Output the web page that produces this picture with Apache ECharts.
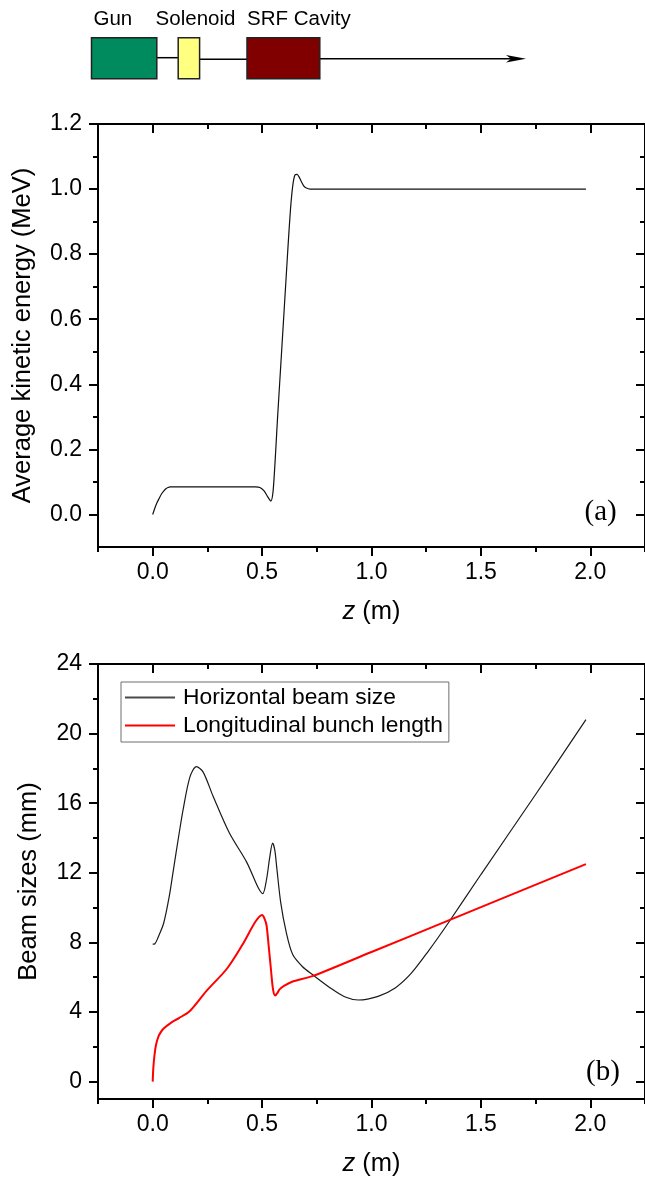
<!DOCTYPE html>
<html><head><meta charset="utf-8">
<script src="https://cdn.jsdelivr.net/npm/echarts@6/dist/echarts.min.js"></script>
<style>html,body{margin:0;padding:0;background:#fff}#c{width:645px;height:1178px}</style>
</head><body><div id="c"></div>
<script>
// ---- Data ----
const zEnergy = [0, 0.01, 0.02, 0.03, 0.04, 0.05, 0.06, 0.07, 0.08, 0.1, 0.2, 0.3, 0.4, 0.47, 0.49, 0.51, 0.525, 0.54, 0.55, 0.56, 0.57, 0.58, 0.59, 0.60, 0.61, 0.62, 0.63, 0.64, 0.65, 0.66, 0.67, 0.68, 0.69, 0.70, 0.72, 0.75, 1.0, 1.5, 1.98];
const energy  = [0, 0.02, 0.037, 0.05, 0.063, 0.072, 0.079, 0.083, 0.085, 0.085, 0.085, 0.085, 0.085, 0.085, 0.083, 0.072, 0.055, 0.041, 0.07, 0.17, 0.29, 0.40, 0.51, 0.62, 0.73, 0.84, 0.94, 1.01, 1.043, 1.045, 1.036, 1.022, 1.01, 1.004, 1.0, 1.0, 1.0, 1.0, 1.0];

const zHor = [0, 0.01, 0.025, 0.05, 0.075, 0.095, 0.12, 0.14, 0.17, 0.2, 0.23, 0.276, 0.35, 0.43, 0.48, 0.503, 0.52, 0.535, 0.548, 0.558, 0.567, 0.585, 0.61, 0.64, 0.685, 0.73, 0.81, 0.88, 0.94, 1.03, 1.11, 1.18, 1.26, 1.35, 1.5, 1.75, 1.98];
const horSize = [7.9, 7.92, 8.3, 9.1, 10.6, 12.2, 14.2, 15.7, 17.5, 18.1, 17.8, 16.4, 14.3, 12.6, 11.2, 10.8, 11.6, 12.9, 13.7, 13.3, 12.3, 10.3, 8.6, 7.3, 6.6, 6.15, 5.4, 4.86, 4.69, 4.9, 5.4, 6.2, 7.5, 9.1, 11.9, 16.5, 20.8];

const zLong = [0, 0.003, 0.008, 0.015, 0.025, 0.035, 0.05, 0.08, 0.12, 0.17, 0.245, 0.34, 0.41, 0.47, 0.5, 0.51, 0.52, 0.53, 0.54, 0.55, 0.56, 0.57, 0.58, 0.6, 0.64, 0.73, 1.0, 1.35, 1.98];
const longLen = [0, 0.8, 1.5, 2.1, 2.55, 2.8, 3.05, 3.35, 3.65, 4.06, 5.2, 6.5, 7.86, 9.2, 9.58, 9.4, 9.0, 7.8, 6.5, 5.3, 4.95, 5.1, 5.3, 5.5, 5.75, 6.06, 7.45, 9.25, 12.5];

const xMajorTicks = [0, 0.5, 1.0, 1.5, 2.0];
const xMinorTicks = [-0.25, 0.25, 0.75, 1.25, 1.75, 2.25];
const yEnergyMajor = [0, 0.2, 0.4, 0.6, 0.8, 1.0, 1.2];
const yEnergyMinor = [0.1, 0.3, 0.5, 0.7, 0.9, 1.1];
const ySizeMajor = [0, 4, 8, 12, 16, 20, 24];
const ySizeMinor = [2, 6, 10, 14, 18, 22];
const seriesNames = ['Horizontal beam size', 'Longitudinal bunch length'];
const components = ['Gun', 'Solenoid', 'SRF Cavity'];
const panelLabels = ['(a)', '(b)'];

// ---- Chart ----
const FONT = 'Liberation Sans, Arial, sans-serif';
const black = '#000';
const TICK_FS = 23, TITLE_FS = 25.5;
function xAxes(gi, nameGap) {
  const base = {type: 'value', gridIndex: gi, min: -0.25, max: 2.25, splitLine: {show: false}};
  return [
    Object.assign({}, base, {position: 'bottom',
      axisLine: {show: true, onZero: false, lineStyle: {color: black, width: 2}},
      axisTick: {show: true, customValues: xMajorTicks, length: 9, lineStyle: {color: black, width: 2}},
      axisLabel: {show: true, customValues: xMajorTicks, formatter: v => v.toFixed(1), color: black, fontSize: TICK_FS, fontFamily: FONT, margin: 14},
      name: '{i|z} (m)', nameLocation: 'middle', nameGap: nameGap,
      nameTextStyle: {color: black, fontSize: TITLE_FS, fontFamily: FONT, rich: {i: {fontStyle: 'italic', fontSize: TITLE_FS, fontFamily: FONT, color: black}}}
    }),
    Object.assign({}, base, {position: 'bottom',
      axisLine: {show: false, onZero: false},
      axisTick: {show: true, customValues: xMinorTicks, length: 5, lineStyle: {color: black, width: 2}},
      axisLabel: {show: false}}),
    Object.assign({}, base, {position: 'top',
      axisLine: {show: true, onZero: false, lineStyle: {color: black, width: 2}},
      axisTick: {show: true, inside: true, customValues: xMajorTicks, length: 9, lineStyle: {color: black, width: 2}},
      axisLabel: {show: false}}),
    Object.assign({}, base, {position: 'top',
      axisLine: {show: false, onZero: false},
      axisTick: {show: true, inside: true, customValues: xMinorTicks, length: 5, lineStyle: {color: black, width: 2}},
      axisLabel: {show: false}})
  ];
}
function yAxes(gi, min, max, major, minor, fmt, name, nameGap) {
  const base = {type: 'value', gridIndex: gi, min: min, max: max, splitLine: {show: false}};
  return [
    Object.assign({}, base, {position: 'left',
      axisLine: {show: true, onZero: false, lineStyle: {color: black, width: 2}},
      axisTick: {show: true, customValues: major, length: 9, lineStyle: {color: black, width: 2}},
      axisLabel: {show: true, customValues: major, formatter: fmt, color: black, fontSize: TICK_FS, fontFamily: FONT, margin: 16},
      name: name, nameLocation: 'middle', nameRotate: 90, nameGap: nameGap,
      nameTextStyle: {color: black, fontSize: TITLE_FS, fontFamily: FONT}
    }),
    Object.assign({}, base, {position: 'left',
      axisLine: {show: false, onZero: false},
      axisTick: {show: true, customValues: minor, length: 5, lineStyle: {color: black, width: 2}},
      axisLabel: {show: false}}),
    Object.assign({}, base, {position: 'right',
      axisLine: {show: true, onZero: false, lineStyle: {color: black, width: 2}},
      axisTick: {show: true, inside: true, customValues: major, length: 9, lineStyle: {color: black, width: 2}},
      axisLabel: {show: false}}),
    Object.assign({}, base, {position: 'right',
      axisLine: {show: false, onZero: false},
      axisTick: {show: true, inside: true, customValues: minor, length: 5, lineStyle: {color: black, width: 2}},
      axisLabel: {show: false}})
  ];
}

const zip = (a, b) => a.map((v, i) => [v, b[i]]);
const chart = echarts.init(document.getElementById('c'), null, {renderer: 'canvas'});
const labelFont = '20.5px ' + FONT;
const panelFont = '29px Liberation Serif, Times New Roman, serif';
chart.setOption({
  animation: false,
  backgroundColor: '#fff',
  grid: [
    {left: 98, top: 124, width: 550, height: 423},
    {left: 98, top: 664, width: 550, height: 438}
  ],
  xAxis: xAxes(0, 52).concat(xAxes(1, 52)),
  yAxis: yAxes(0, -0.1, 1.2, yEnergyMajor, yEnergyMinor, v => v.toFixed(1), 'Average kinetic energy (MeV)', 62)
    .concat(yAxes(1, -1, 24, ySizeMajor, ySizeMinor, v => String(v), 'Beam sizes (mm)', 56)),
  legend: {
    data: seriesNames, left: 121, top: 682, orient: 'vertical',
    borderColor: '#6e6e6e', borderWidth: 1, padding: [4, 6, 5, 4], itemGap: 5,
    itemWidth: 50, itemHeight: 2, icon: 'rect',
    textStyle: {color: black, fontSize: 22.8, fontFamily: FONT, padding: [0, 0, 0, 3]}
  },
  series: [
    {type: 'line', name: 'energy', xAxisIndex: 0, yAxisIndex: 0, data: zip(zEnergy, energy),
      showSymbol: false, symbol: 'none', smooth: 0.25, lineStyle: {color: '#111', width: 1.2}, itemStyle: {color: '#111'}},
    {type: 'line', name: seriesNames[0], xAxisIndex: 4, yAxisIndex: 4, data: zip(zHor, horSize),
      showSymbol: false, symbol: 'none', smooth: 0.3, lineStyle: {color: '#1a1a1a', width: 1.2}, itemStyle: {color: '#4a4a4a'}},
    {type: 'line', name: seriesNames[1], xAxisIndex: 4, yAxisIndex: 4, data: zip(zLong, longLen),
      showSymbol: false, symbol: 'none', smooth: 0.3, lineStyle: {color: '#ff0000', width: 2}, itemStyle: {color: '#ff0000'}}
  ],
  graphic: [
    {type: 'line', shape: {x1: 157, y1: 57.7, x2: 178, y2: 57.7}, style: {stroke: '#000', lineWidth: 1.5}},
    {type: 'line', shape: {x1: 200, y1: 59.3, x2: 247, y2: 59.3}, style: {stroke: '#000', lineWidth: 1.5}},
    {type: 'line', shape: {x1: 320, y1: 58.7, x2: 512, y2: 58.7}, style: {stroke: '#000', lineWidth: 1.5}},
    {type: 'polygon', shape: {points: [[506, 55], [526, 58.7], [506, 62.4], [511, 58.7]]}, style: {fill: '#000'}},
    {type: 'rect', shape: {x: 91.5, y: 37.7, width: 65.3, height: 41}, style: {fill: '#008B5E', stroke: '#222', lineWidth: 1.5}},
    {type: 'rect', shape: {x: 178.2, y: 37.7, width: 21.4, height: 41}, style: {fill: '#FFFF80', stroke: '#222', lineWidth: 1.5}},
    {type: 'rect', shape: {x: 247, y: 37.7, width: 72.8, height: 41}, style: {fill: '#800000', stroke: '#222', lineWidth: 1.5}},
    {type: 'text', x: 93.5, y: 19.5, style: {text: components[0], fill: '#000', font: labelFont, textVerticalAlign: 'middle'}},
    {type: 'text', x: 155.6, y: 19.5, style: {text: components[1], fill: '#000', font: labelFont, textVerticalAlign: 'middle'}},
    {type: 'text', x: 247, y: 19.5, style: {text: components[2], fill: '#000', font: labelFont, textVerticalAlign: 'middle'}},
    {type: 'text', x: 584.5, y: 512, style: {text: panelLabels[0], fill: '#000', font: panelFont, textVerticalAlign: 'middle'}},
    {type: 'text', x: 586, y: 1072, style: {text: panelLabels[1], fill: '#000', font: panelFont, textVerticalAlign: 'middle'}}
  ]
});
</script></body></html>
